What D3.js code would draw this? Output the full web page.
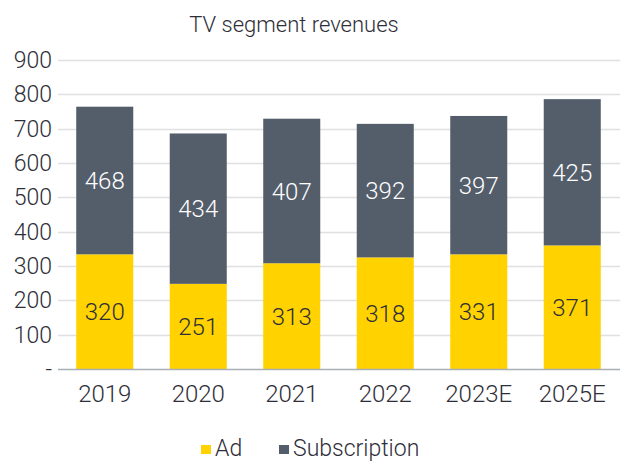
<!DOCTYPE html>
<html lang="en">
<head>
    <meta charset="utf-8">
    <title>TV segment revenues</title>
    <script src="https://d3js.org/d3.v7.min.js"></script>
    <style>
        body { margin: 0; background: #fff; }
        text { font-family: Roboto, "DejaVu Sans", sans-serif; font-weight: 300; fill: #2e2e38; }
    </style>
</head>
<body>
    <script>
        // Data
        var years = ["2019", "2020", "2021", "2022", "2023E", "2025E"];
        // bar heights as drawn
        var adValues = [334, 248, 308, 325, 334, 360];
        var subValues = [430, 438, 421, 389, 403, 426];
        // printed data labels
        var adLabels = ["320", "251", "313", "318", "331", "371"];
        var subLabels = ["468", "434", "407", "392", "397", "425"];
        var yTicks = [0, 100, 200, 300, 400, 500, 600, 700, 800, 900];
        var seriesNames = ["Ad", "Subscription"];
        var colors = ["#ffd200", "#545e6b"];

        var width = 620;
        var height = 461;
        var margin = { top: 60, right: 1, bottom: 92, left: 58 };

        var svg = d3.select("body")
            .append("svg")
            .attr("width", width)
            .attr("height", height);

        var x = d3.scaleBand()
            .domain(years)
            .range([margin.left, width - margin.right])
            .paddingInner(0.39)
            .paddingOuter(0.195);

        var y = d3.scaleLinear()
            .domain([0, 900])
            .range([369, 60]);

        // title
        svg.append("text")
            .attr("x", 294)
            .attr("y", 32)
            .attr("text-anchor", "middle")
            .style("font-size", "22px")
            .text("TV segment revenues");

        // gridlines
        svg.append("g")
            .selectAll("line")
            .data(yTicks.slice(1))
            .enter()
            .append("line")
            .attr("x1", margin.left)
            .attr("x2", width)
            .attr("y1", function(d) { return Math.round(y(d)) + 0.5; })
            .attr("y2", function(d) { return Math.round(y(d)) + 0.5; })
            .attr("stroke", "#dfe0e2")
            .attr("stroke-width", 1.5);

        // y axis labels
        var yAxis = d3.axisLeft(y)
            .tickValues(yTicks)
            .tickSize(0)
            .tickPadding(6)
            .tickFormat(function(d) { return d === 0 ? "-" : d; });

        svg.append("g")
            .attr("transform", "translate(" + margin.left + ",0)")
            .call(yAxis)
            .call(function(g) { g.select(".domain").remove(); })
            .selectAll("text")
            .style("font-size", "23px")
            .attr("fill", "#2e2e38");

        // stacked bars
        var rows = years.map(function(yr, i) {
            return { year: yr, Ad: adValues[i], Subscription: subValues[i] };
        });
        var stack = d3.stack().keys(seriesNames)(rows);

        var layers = svg.append("g")
            .selectAll("g")
            .data(stack)
            .enter()
            .append("g")
            .attr("fill", function(d, i) { return colors[i]; });

        layers.selectAll("rect")
            .data(function(d) { return d; })
            .enter()
            .append("rect")
            .attr("x", function(d) { return x(d.data.year); })
            .attr("width", x.bandwidth())
            .attr("y", function(d) { return y(d[1]); })
            .attr("height", function(d) { return y(d[0]) - y(d[1]); });

        // value labels
        var labelSets = [adLabels, subLabels];
        layers.selectAll("text")
            .data(function(d, si) {
                return d.map(function(p, i) { return { p: p, s: si, label: labelSets[si][i] }; });
            })
            .enter()
            .append("text")
            .attr("x", function(d) { return x(d.p.data.year) + x.bandwidth() / 2; })
            .attr("y", function(d) { return y((d.p[0] + d.p[1]) / 2); })
            .attr("dy", "0.36em")
            .attr("text-anchor", "middle")
            .style("font-size", "24px")
            .style("fill", function(d) { return d.s === 1 ? "#ffffff" : "#2e2e38"; })
            .text(function(d) { return d.label; });

        // x axis line
        svg.append("line")
            .attr("x1", margin.left)
            .attr("x2", width)
            .attr("y1", y(0) + 0.5)
            .attr("y2", y(0) + 0.5)
            .attr("stroke", "#a8aeb6")
            .attr("stroke-width", 1.5);

        // x axis labels
        var xAxis = d3.axisBottom(x).tickSize(0).tickPadding(16);
        svg.append("g")
            .attr("transform", "translate(0," + y(0) + ")")
            .call(xAxis)
            .call(function(g) { g.select(".domain").remove(); })
            .selectAll("text")
            .style("font-size", "24px")
            .attr("fill", "#2e2e38");

        // legend
        var legendItems = [
            { name: seriesNames[0], color: colors[0], x: 201 },
            { name: seriesNames[1], color: colors[1], x: 279 }
        ];
        var legend = svg.append("g")
            .selectAll("g")
            .data(legendItems)
            .enter()
            .append("g")
            .attr("transform", function(d) { return "translate(" + d.x + ",445)"; });

        legend.append("rect")
            .attr("width", 10)
            .attr("height", 9)
            .attr("fill", function(d) { return d.color; });

        legend.append("text")
            .attr("x", 14)
            .attr("y", 11)
            .style("font-size", "23px")
            .text(function(d) { return d.name; });
    </script>
</body>
</html>
